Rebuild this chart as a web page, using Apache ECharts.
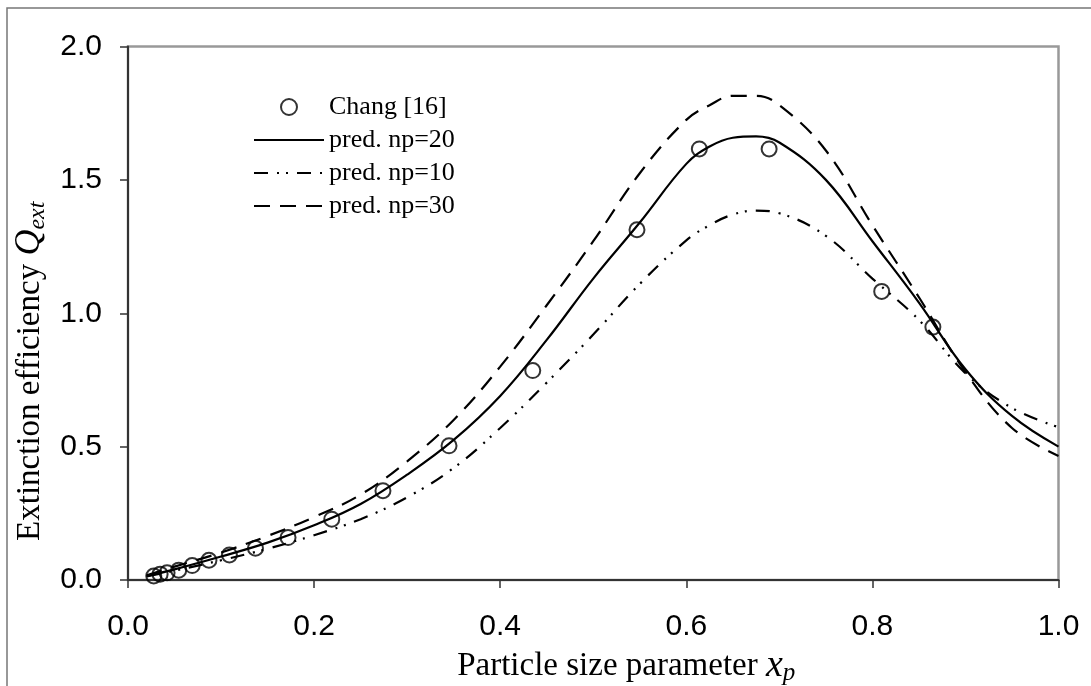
<!DOCTYPE html>
<html>
<head>
<meta charset="utf-8">
<script src="https://cdn.jsdelivr.net/npm/echarts@6/dist/echarts.min.js"></script>
<style>
  html, body { margin: 0; padding: 0; background: #fff; }
  #chart { width: 1091px; height: 686px; }
</style>
</head>
<body>
<div id="chart"></div>
<script>
// measured points (Chang [16])
const expX = [0.0277, 0.0345, 0.042, 0.0545, 0.069, 0.087, 0.109, 0.137, 0.172, 0.219, 0.274, 0.345, 0.435, 0.547, 0.614, 0.689, 0.81, 0.865];
const expY = [0.015, 0.022, 0.027, 0.037, 0.054, 0.074, 0.094, 0.119, 0.159, 0.228, 0.335, 0.503, 0.785, 1.313, 1.616, 1.616, 1.082, 0.948];

// predicted curves
const predX = [0.02, 0.05, 0.1, 0.15, 0.2, 0.25, 0.3, 0.35, 0.4, 0.45, 0.5, 0.55, 0.6, 0.625, 0.65, 0.675, 0.7, 0.75, 0.8, 0.85, 0.9, 0.95, 1.0];
const np20 = [0.015, 0.04, 0.088, 0.14, 0.205, 0.285, 0.395, 0.525, 0.69, 0.9, 1.13, 1.34, 1.56, 1.625, 1.658, 1.663, 1.64, 1.5, 1.27, 1.04, 0.79, 0.615, 0.5];
const np10 = [0.013, 0.035, 0.074, 0.117, 0.168, 0.228, 0.31, 0.42, 0.57, 0.74, 0.92, 1.11, 1.273, 1.33, 1.37, 1.385, 1.375, 1.29, 1.13, 0.975, 0.775, 0.645, 0.573];
const np30 = [0.018, 0.05, 0.103, 0.165, 0.236, 0.32, 0.445, 0.6, 0.8, 1.03, 1.27, 1.525, 1.725, 1.78, 1.815, 1.815, 1.78, 1.61, 1.33, 1.06, 0.78, 0.57, 0.465];

const xTicks = [0, 0.2, 0.4, 0.6, 0.8, 1.0];
const yTicks = [0, 0.5, 1.0, 1.5, 2.0];

const pairs = (xs, ys) => xs.map((x, i) => [x, ys[i]]);

const serif = "Liberation Serif";
const sans = "Liberation Sans";
const noDot = "rgba(0,0,0,0)";

const chart = echarts.init(document.getElementById("chart"));

chart.setOption({
  backgroundColor: "#fff",
  animation: false,
  graphic: [
    {
      type: "rect",
      shape: { x: 7, y: 8, width: 1200, height: 800 },
      style: { fill: "none", stroke: "#777", lineWidth: 1.5 },
      silent: true,
      z: -1,
    },
  ],
  grid: {
    left: 128,
    top: 46.5,
    right: 32.5,
    bottom: 106,
    outerBoundsMode: "none",
    containLabel: false,
    show: true,
    borderColor: "#999",
    borderWidth: 2.5,
    backgroundColor: "transparent",
  },
  legend: {
    orient: "vertical",
    left: 253,
    top: 94,
    padding: 0,
    itemWidth: 70,
    itemHeight: 16,
    itemGap: 7,
    textStyle: { fontFamily: serif, fontSize: 26, color: "#000" },
    data: ["Chang [16]", "pred. np=20", "pred. np=10", "pred. np=30"],
  },
  xAxis: {
    type: "value",
    min: 0,
    max: 1,
    interval: 0.2,
    name: "Particle size parameter {it|x}{sub|p}",
    nameLocation: "middle",
    nameGap: 60,
    nameTextStyle: {
      fontFamily: serif,
      fontSize: 33,
      color: "#000",
      padding: [0, 0, 0, 66],
      rich: {
        it: { fontFamily: serif, fontStyle: "italic", fontSize: 38, color: "#000" },
        sub: { fontFamily: serif, fontStyle: "italic", fontSize: 25, color: "#000", padding: [16, 0, 0, 0] },
      },
    },
    axisLine: { show: true, onZero: false, lineStyle: { color: "#333", width: 2 } },
    axisTick: { show: true, length: 8, lineStyle: { color: "#333", width: 1.5 } },
    axisLabel: {
      margin: 32,
      fontFamily: sans,
      fontSize: 30,
      color: "#000",
      formatter: (v) => (xTicks.some((t) => Math.abs(t - v) < 1e-9) ? v.toFixed(1) : ""),
    },
    splitLine: { show: false },
  },
  yAxis: {
    type: "value",
    min: 0,
    max: 2,
    interval: 0.5,
    name: "Extinction efficiency {it|Q}{sub|ext}",
    nameLocation: "middle",
    nameGap: 78,
    nameTextStyle: {
      fontFamily: serif,
      fontSize: 33,
      color: "#000",
      padding: [0, 116, 0, 0],
      rich: {
        it: { fontFamily: serif, fontStyle: "italic", fontSize: 36, color: "#000" },
        sub: { fontFamily: serif, fontStyle: "italic", fontSize: 24, color: "#000", padding: [15, 0, 0, 0] },
      },
    },
    axisLine: { show: true, onZero: false, lineStyle: { color: "#333", width: 2 } },
    axisTick: { show: true, length: 8, lineStyle: { color: "#333", width: 1.5 } },
    axisLabel: {
      margin: 26,
      fontFamily: sans,
      fontSize: 30,
      color: "#000",
      formatter: (v) => (yTicks.some((t) => Math.abs(t - v) < 1e-9) ? v.toFixed(1) : ""),
    },
    splitLine: { show: false },
  },
  series: [
    {
      name: "pred. np=20",
      type: "line",
      smooth: 0.4,
      symbol: "none",
      data: pairs(predX, np20),
      lineStyle: { color: "#000", width: 2.2, type: "solid" },
      itemStyle: { color: noDot },
      z: 3,
    },
    {
      name: "pred. np=10",
      type: "line",
      smooth: 0.4,
      symbol: "none",
      data: pairs(predX, np10),
      lineStyle: { color: "#000", width: 2.2, type: [14, 9, 2, 7, 2, 9] },
      itemStyle: { color: noDot },
      z: 3,
    },
    {
      name: "pred. np=30",
      type: "line",
      smooth: 0.4,
      symbol: "none",
      data: pairs(predX, np30),
      lineStyle: { color: "#000", width: 2.2, type: [16, 10] },
      itemStyle: { color: noDot },
      z: 3,
    },
    {
      name: "Chang [16]",
      type: "scatter",
      symbol: "circle",
      symbolSize: 15,
      data: pairs(expX, expY),
      itemStyle: { color: "rgba(255,255,255,0)", borderColor: "#000", borderWidth: 2 },
      z: 4,
    },
  ],
});

window.addEventListener("resize", () => chart.resize());
</script>
</body>
</html>
